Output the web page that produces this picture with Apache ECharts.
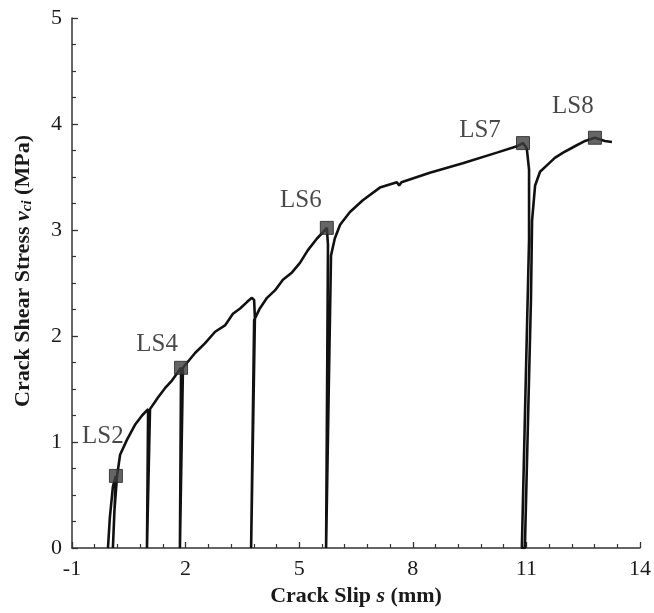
<!DOCTYPE html>
<html>
<head>
<meta charset="utf-8">
<script src="https://cdn.jsdelivr.net/npm/echarts@6/dist/echarts.min.js"></script>
<style>
  html, body { margin: 0; padding: 0; background: #fff; }
  #main { width: 654px; height: 613px; }
</style>
</head>
<body>
<div id="main"></div>
<script>
// crack slip (mm) / crack shear stress (MPa), in drawing order
const slipValues = [
  -0.05, 0.00, 0.08, 0.16, 0.08, 0.12, 0.19,
  0.27, 0.45, 0.66, 0.85, 1.01, 0.98, 1.06,
  1.27, 1.46, 1.64, 1.88, 1.85, 1.93,
  2.25, 2.51, 2.78, 3.04, 3.25, 3.44, 3.62, 3.75, 3.81, 3.83, 3.73, 3.81,
  3.96, 4.15, 4.36, 4.57, 4.81, 5.02, 5.23, 5.47, 5.63, 5.73, 5.76, 5.71, 5.84,
  5.94, 6.08, 6.34, 6.68, 7.13, 7.58, 7.64, 7.70, 8.45, 9.32, 10.22, 10.75, 10.91,
  11.01, 11.07, 11.07, 10.88, 10.96, 11.12, 11.15, 11.23, 11.36, 11.54, 11.75, 11.97,
  12.28, 12.55, 12.81, 13.07, 13.26
];
const stressValues = [
  0.00, 0.29, 0.58, 0.68, 0.00, 0.35, 0.68,
  0.88, 1.02, 1.16, 1.25, 1.31, 0.00, 1.31,
  1.42, 1.51, 1.58, 1.70, 0.00, 1.70,
  1.84, 1.93, 2.04, 2.10, 2.21, 2.26, 2.32, 2.36, 2.34, 2.17, 0.00, 2.15,
  2.26, 2.36, 2.43, 2.53, 2.60, 2.69, 2.81, 2.92, 2.98, 3.02, 2.86, 0.00, 2.76,
  2.92, 3.05, 3.17, 3.28, 3.40, 3.45, 3.42, 3.45, 3.54, 3.63, 3.73, 3.79, 3.82,
  3.77, 3.57, 2.91, 0.00, 0.00, 2.34, 3.09, 3.42, 3.55, 3.61, 3.68, 3.73,
  3.79, 3.84, 3.87, 3.84, 3.83
];

// load stages marked with squares
const stageNames = ['LS2', 'LS4', 'LS6', 'LS7', 'LS8'];
const stageSlip = [0.16, 1.88, 5.73, 10.91, 12.81];
const stageStress = [0.68, 1.70, 3.02, 3.82, 3.87];

const xTicks = [-1, 2, 5, 8, 11, 14];
const yTicks = [0, 1, 2, 3, 4, 5];

const SERIF = '"Liberation Serif", "DejaVu Serif", serif';

// where each LS label sits relative to its square (px)
const labelOffsets = [[-13, -39], [-24, -23], [-26, -27], [-43, -13], [-22, -31]];

const chart = echarts.init(document.getElementById('main'));

const curve = slipValues.map((s, i) => [s, stressValues[i]]);
const stages = stageSlip.map((s, i) => ({
  name: stageNames[i],
  value: [s, stageStress[i]],
  label: { offset: labelOffsets[i] }
}));

const axisCommon = {
  axisLine: { show: true, onZero: false, lineStyle: { color: '#333', width: 1.5 } },
  axisTick: { show: true, inside: true, length: 6, lineStyle: { color: '#333', width: 1.3 } },
  minorTick: { show: true, length: 4, lineStyle: { color: '#333', width: 1.2 } },
  splitLine: { show: false },
  axisLabel: { color: '#1a1a1a', fontFamily: SERIF, fontSize: 22 },
  nameLocation: 'middle',
  nameTextStyle: { color: '#1a1a1a', fontFamily: SERIF, fontSize: 22, fontWeight: 'bold' }
};

const option = {
  animation: false,
  backgroundColor: '#fff',
  grid: { left: 72, right: 14, top: 18, bottom: 65, outerBoundsMode: 'none' },
  xAxis: Object.assign({}, axisCommon, {
    type: 'value',
    min: xTicks[0],
    max: xTicks[xTicks.length - 1],
    interval: xTicks[1] - xTicks[0],
    minorTick: Object.assign({}, axisCommon.minorTick, { splitNumber: 5 }),
    axisLabel: Object.assign({}, axisCommon.axisLabel, { margin: 10 }),
    name: '{b|Crack Slip }{i|s}{b| (mm)}',
    nameGap: 36,
    nameTextStyle: Object.assign({}, axisCommon.nameTextStyle, {
      rich: {
        b: { fontFamily: SERIF, fontSize: 22, fontWeight: 'bold', color: '#1a1a1a' },
        i: { fontFamily: SERIF, fontSize: 22, fontWeight: 'bold', fontStyle: 'italic', color: '#1a1a1a' }
      }
    })
  }),
  yAxis: Object.assign({}, axisCommon, {
    type: 'value',
    min: yTicks[0],
    max: yTicks[yTicks.length - 1],
    interval: 1,
    minorTick: Object.assign({}, axisCommon.minorTick, { splitNumber: 4 }),
    axisLabel: Object.assign({}, axisCommon.axisLabel, { margin: 10 }),
    name: '{b|Crack Shear Stress }{i|v}{s|ci}{b| (MPa)}',
    nameGap: 37,
    nameTextStyle: Object.assign({}, axisCommon.nameTextStyle, {
      padding: [0, 0, 0, 24],
      rich: {
        b: { fontFamily: SERIF, fontSize: 22, fontWeight: 'bold', color: '#1a1a1a' },
        i: { fontFamily: SERIF, fontSize: 22, fontWeight: 'bold', fontStyle: 'italic', color: '#1a1a1a' },
        s: { fontFamily: SERIF, fontSize: 15, fontWeight: 'bold', fontStyle: 'italic', color: '#1a1a1a', padding: [9, 0, 0, 0] }
      }
    })
  }),
  series: [
    {
      type: 'line',
      data: curve,
      showSymbol: false,
      smooth: false,
      lineStyle: { color: '#111', width: 2.6 },
      z: 2
    },
    {
      type: 'scatter',
      data: stages,
      symbol: 'rect',
      symbolSize: 13,
      itemStyle: { color: '#3e3e3e', borderColor: '#222', borderWidth: 1 },
      label: {
        show: true,
        position: 'inside',
        formatter: '{b}',
        color: '#1a1a1a',
        fontFamily: SERIF,
        fontSize: 25
      },
      z: 3
    }
  ]
};

chart.setOption(option);
</script>
</body>
</html>
